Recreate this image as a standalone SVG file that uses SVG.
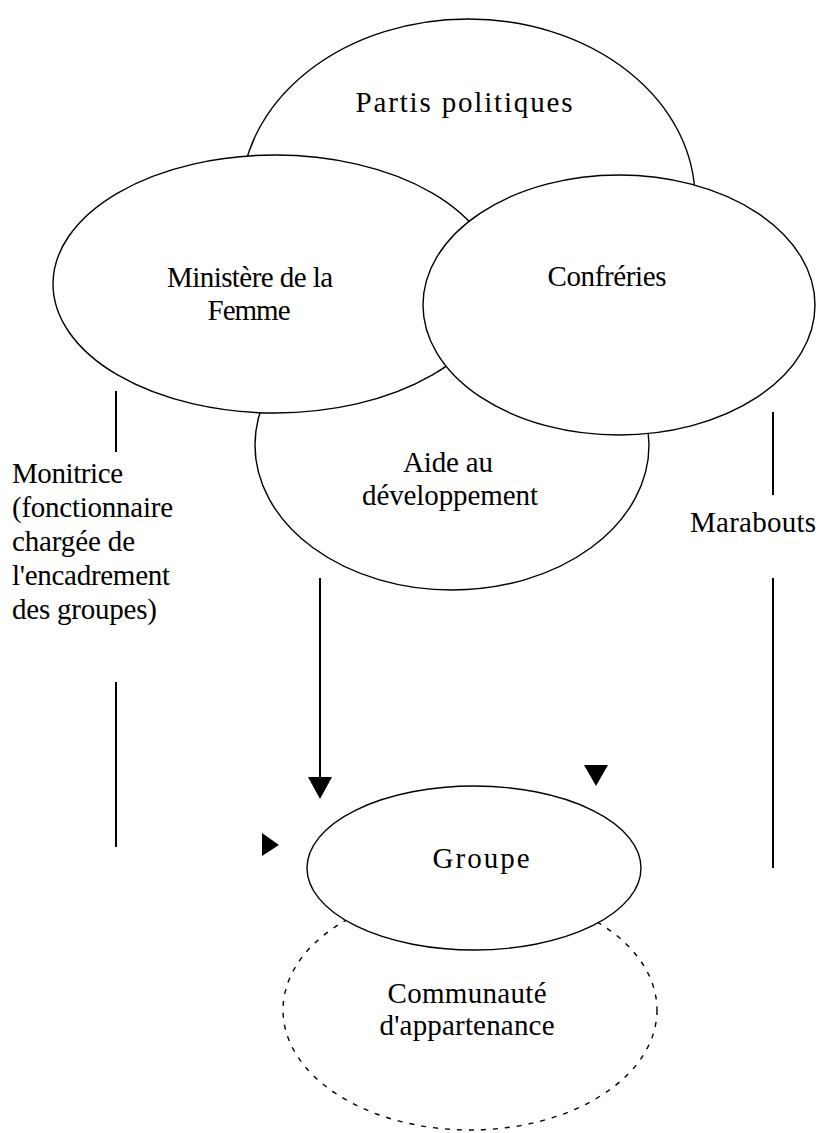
<svg xmlns="http://www.w3.org/2000/svg" width="818" height="1133" viewBox="0 0 818 1133">
  <style>
    .shape { fill: #ffffff; stroke: #000000; stroke-width: 1.4; }
    .dotted { fill: #ffffff; stroke: #000000; stroke-width: 1.4; stroke-dasharray: 5 7; }
    .label { font-family: "Liberation Serif", "Times New Roman", serif; font-size: 29px; fill: #000000; }
    .mid { text-anchor: middle; }
    .line { stroke: #000000; stroke-width: 2; fill: none; }
    .head { fill: #000000; stroke: none; }
  </style>
  <defs>
    <marker id="arrow" viewBox="0 0 22 24" refX="0" refY="12" markerWidth="22" markerHeight="24" markerUnits="userSpaceOnUse" orient="auto">
      <path d="M0,0 L22,12 L0,24 z" fill="#000000"/>
    </marker>
  </defs>

  <rect x="0" y="0" width="818" height="1133" fill="#ffffff"/>

  <!-- back layer: political parties -->
  <g id="partis-politiques">
    <ellipse class="shape" cx="468" cy="199" rx="227" ry="180"/>
    <text class="label mid" x="464" y="112" textLength="217" lengthAdjust="spacing">Partis politiques</text>
  </g>

  <!-- development aid, partly hidden under the two upper circles -->
  <g id="aide-developpement">
    <ellipse class="shape" cx="452" cy="445" rx="197" ry="145"/>
    <text class="label mid" x="448" y="472" textLength="90" lengthAdjust="spacing">Aide au</text>
    <text class="label mid" x="450" y="505" textLength="176" lengthAdjust="spacing">développement</text>
  </g>

  <g id="ministere-femme">
    <ellipse class="shape" cx="275" cy="284" rx="222" ry="129"/>
    <text class="label mid" x="250" y="287" textLength="166" lengthAdjust="spacing">Ministère de la</text>
    <text class="label mid" x="249" y="320" textLength="83" lengthAdjust="spacing">Femme</text>
  </g>

  <g id="confreries">
    <ellipse class="shape" cx="619" cy="305" rx="196" ry="130"/>
    <text class="label mid" x="607" y="286" textLength="119" lengthAdjust="spacing">Confréries</text>
  </g>

  <!-- side labels -->
  <g id="monitrice">
    <text class="label" x="12" y="483" textLength="111" lengthAdjust="spacing">Monitrice</text>
    <text class="label" x="12" y="517" textLength="161" lengthAdjust="spacing">(fonctionnaire</text>
    <text class="label" x="12" y="551" textLength="123" lengthAdjust="spacing">chargée de</text>
    <text class="label" x="12" y="585" textLength="158" lengthAdjust="spacing">l'encadrement</text>
    <text class="label" x="12" y="619" textLength="145" lengthAdjust="spacing">des groupes)</text>
  </g>

  <g id="marabouts">
    <text class="label" x="690" y="532" textLength="126" lengthAdjust="spacing">Marabouts</text>
  </g>

  <!-- community of belonging, under the group -->
  <g id="communaute">
    <ellipse class="dotted" cx="470" cy="1010" rx="187" ry="120"/>
    <text class="label mid" x="467" y="1003" textLength="159" lengthAdjust="spacing">Communauté</text>
    <text class="label mid" x="467" y="1035" textLength="175" lengthAdjust="spacing">d'appartenance</text>
  </g>

  <g id="groupe">
    <ellipse class="shape" cx="474" cy="868" rx="167" ry="82"/>
    <text class="label mid" x="481" y="868" textLength="97" lengthAdjust="spacing">Groupe</text>
  </g>

  <!-- connectors -->
  <g id="connectors">
    <line class="line" x1="116" y1="391" x2="116" y2="452"/>
    <line class="line" x1="116" y1="682" x2="116" y2="847"/>
    <line class="line" x1="773" y1="412" x2="773" y2="495"/>
    <line class="line" x1="773" y1="578" x2="773" y2="868"/>
    <line class="line" x1="320" y1="578" x2="320" y2="777" marker-end="url(#arrow)"/>
    <polygon class="head" points="584,765 608,765 596,786"/>
    <polygon class="head" points="262,833 262,856 279,845"/>
  </g>
</svg>
